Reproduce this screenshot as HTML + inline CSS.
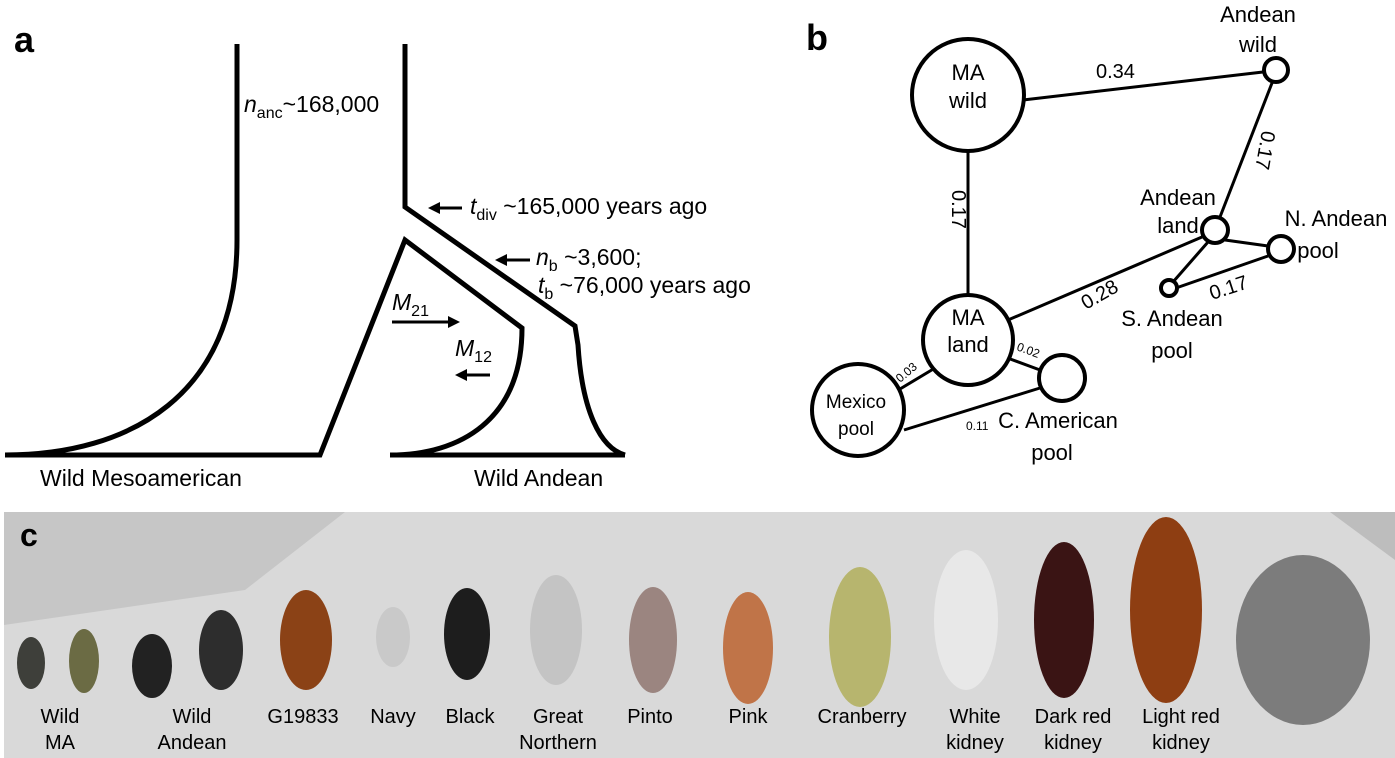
<!DOCTYPE html>
<html><head><meta charset="utf-8"><style>
html,body{margin:0;padding:0;background:#fff;}
svg{display:block;font-family:"Liberation Sans",sans-serif;}
</style></head><body>
<svg width="1395" height="758" viewBox="0 0 1395 758">
<!-- Panel a -->
<g fill="none" stroke="#000" stroke-width="5" stroke-linejoin="miter">
<text x="14" y="52" font-size="36" font-weight="bold" stroke="none" fill="#000">a</text>
<path d="M237,44 V240 C237,395 130,455 5,455 H320 L405,240 L522,328 C522,420 460,455 390,455 H625"/>
<path d="M405,44 V207 L575,326 L578,345 C582,410 600,448 625,455"/>
</g>
<g font-size="23" fill="#000">
<text x="244" y="112"><tspan font-style="italic">n</tspan><tspan font-size="16" dy="6">anc</tspan><tspan dy="-6">~168,000</tspan></text>
<path d="M462,208 H436" stroke="#000" stroke-width="3"/>
<path d="M428,208 L440,202 L440,214 Z" fill="#000"/>
<text x="470" y="214"><tspan font-style="italic">t</tspan><tspan font-size="16" dy="6">div</tspan><tspan dy="-6"> ~165,000 years ago</tspan></text>
<path d="M530,260 H502" stroke="#000" stroke-width="3"/>
<path d="M495,260 L507,254 L507,266 Z" fill="#000"/>
<text x="536" y="265"><tspan font-style="italic">n</tspan><tspan font-size="16" dy="6">b</tspan><tspan dy="-6"> ~3,600;</tspan></text>
<text x="538" y="293"><tspan font-style="italic">t</tspan><tspan font-size="16" dy="6">b</tspan><tspan dy="-6"> ~76,000 years ago</tspan></text>
<text x="392" y="310"><tspan font-style="italic">M</tspan><tspan font-size="16" dy="6">21</tspan></text>
<path d="M392,322 H452" stroke="#000" stroke-width="3"/>
<path d="M460,322 L448,316 L448,328 Z" fill="#000"/>
<text x="455" y="356"><tspan font-style="italic">M</tspan><tspan font-size="16" dy="6">12</tspan></text>
<path d="M490,375 H462" stroke="#000" stroke-width="3"/>
<path d="M455,375 L467,369 L467,381 Z" fill="#000"/>
<text x="40" y="486">Wild Mesoamerican</text>
<text x="474" y="486">Wild Andean</text>
</g>
<!-- Panel b -->
<g>
<text x="806" y="50" font-size="36" font-weight="bold">b</text>
<g stroke="#000" stroke-width="3" fill="none">
<line x1="1023" y1="100" x2="1263" y2="72"/>
<line x1="968" y1="152" x2="968" y2="295"/>
<line x1="1272" y1="83" x2="1220" y2="217"/>
<line x1="1008" y1="320" x2="1202" y2="237"/>
<line x1="1225" y1="240" x2="1268" y2="246"/>
<line x1="1208" y1="242" x2="1173" y2="282"/>
<line x1="1176" y1="288" x2="1268" y2="256"/>
<line x1="935" y1="368" x2="895" y2="392"/>
<line x1="1002" y1="356" x2="1040" y2="370"/>
<line x1="904" y1="430" x2="1040" y2="388"/>
</g>
<g stroke="#000" stroke-width="4" fill="#fff">
<circle cx="968" cy="95" r="56"/>
<circle cx="968" cy="340" r="45"/>
<circle cx="858" cy="410" r="46"/>
<circle cx="1062" cy="378" r="23"/>
<circle cx="1276" cy="70" r="12"/>
<circle cx="1215" cy="230" r="13"/>
<circle cx="1281" cy="249" r="13"/>
<circle cx="1169" cy="288" r="8"/>
</g>
<g font-size="22" fill="#000" text-anchor="middle">
<text x="968" y="80">MA</text><text x="968" y="108">wild</text>
<text x="968" y="325">MA</text><text x="968" y="352">land</text>
<text x="856" y="408" font-size="19">Mexico</text><text x="856" y="435" font-size="19">pool</text>
<text x="1258" y="22">Andean</text><text x="1258" y="52">wild</text>
<text x="1178" y="205">Andean</text><text x="1178" y="233">land</text>
<text x="1336" y="226">N. Andean</text><text x="1318" y="258">pool</text>
<text x="1172" y="326">S. Andean</text><text x="1172" y="358">pool</text>
<text x="1058" y="428">C. American</text><text x="1052" y="460">pool</text>
</g>
<g font-size="20" fill="#000">
<text x="1096" y="78">0.34</text>
<text transform="translate(952,190) rotate(90)">0.17</text>
<text transform="translate(1262,130) rotate(100)">0.17</text>
<text transform="translate(1086,310) rotate(-30)">0.28</text>
<text transform="translate(1212,300) rotate(-18)">0.17</text>
<text font-size="12" transform="translate(900,383) rotate(-40)">0.03</text>
<text font-size="12" transform="translate(1016,350) rotate(20)">0.02</text>
<text font-size="12" x="966" y="430">0.11</text>
</g>
</g>
<!-- Panel c -->
<g>
<rect x="4" y="512" width="1391" height="246" fill="#d9d9d9"/>
<polygon points="4,512 345,512 245,590 4,625" fill="#c6c6c6"/>
<polygon points="1330,512 1395,512 1395,560" fill="#bdbdbd"/>
<text x="20" y="546" font-size="32" font-weight="bold">c</text>
<g>
<ellipse cx="31" cy="663" rx="14" ry="26" fill="#3e3f3a"/>
<ellipse cx="84" cy="661" rx="15" ry="32" fill="#6b6b44"/>
<ellipse cx="152" cy="666" rx="20" ry="32" fill="#222"/>
<ellipse cx="221" cy="650" rx="22" ry="40" fill="#2d2d2d"/>
<ellipse cx="306" cy="640" rx="26" ry="50" fill="#8b4216"/>
<ellipse cx="393" cy="637" rx="17" ry="30" fill="#c9c9c9"/>
<ellipse cx="467" cy="634" rx="23" ry="46" fill="#1d1d1d"/>
<ellipse cx="556" cy="630" rx="26" ry="55" fill="#c4c4c4"/>
<ellipse cx="653" cy="640" rx="24" ry="53" fill="#9b8580"/>
<ellipse cx="748" cy="648" rx="25" ry="56" fill="#c07448"/>
<ellipse cx="860" cy="637" rx="31" ry="70" fill="#b7b56e"/>
<ellipse cx="966" cy="620" rx="32" ry="70" fill="#e8e8e8"/>
<ellipse cx="1064" cy="620" rx="30" ry="78" fill="#3a1414"/>
<ellipse cx="1166" cy="610" rx="36" ry="93" fill="#8e3e12"/>
<ellipse cx="1303" cy="640" rx="67" ry="85" fill="#7c7c7c"/>
</g>
<g font-size="20" fill="#000" text-anchor="middle">
<text x="60" y="723">Wild</text><text x="60" y="749">MA</text>
<text x="192" y="723">Wild</text><text x="192" y="749">Andean</text>
<text x="303" y="723">G19833</text>
<text x="393" y="723">Navy</text>
<text x="470" y="723">Black</text>
<text x="558" y="723">Great</text><text x="558" y="749">Northern</text>
<text x="650" y="723">Pinto</text>
<text x="748" y="723">Pink</text>
<text x="862" y="723">Cranberry</text>
<text x="975" y="723">White</text><text x="975" y="749">kidney</text>
<text x="1073" y="723">Dark red</text><text x="1073" y="749">kidney</text>
<text x="1181" y="723">Light red</text><text x="1181" y="749">kidney</text>
</g>
</g>
</svg>
</body></html>
